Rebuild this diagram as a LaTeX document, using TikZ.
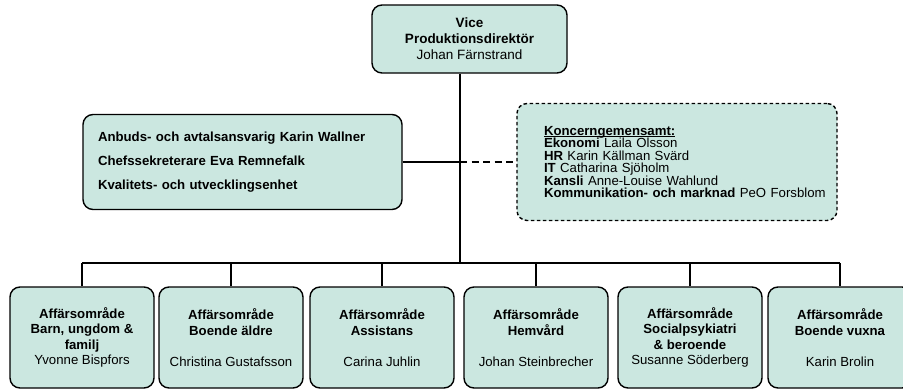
\documentclass[tikz,border=0pt]{standalone}
\usepackage{fontspec}
\setmainfont{Liberation Sans}
\definecolor{boxfill}{RGB}{203,231,224}
\newcommand\myul[1]{\sbox0{#1}\rlap{\rule[-1.6pt]{\wd0}{0.8pt}}#1}
\begin{document}
\begin{tikzpicture}[x=1pt,y=-1pt,
  orgbox/.style={draw=black, line width=1.4pt, fill=boxfill, rounded corners=10pt,
    inner sep=0pt, align=center, font=\fontsize{13.2}{15.5}\selectfont},
  botbox/.style={orgbox, minimum width=144pt, minimum height=101pt},
  link/.style={line width=2pt, black}]
\clip (0,0) rectangle (903,389);
\fill[white] (0,0) rectangle (903,389);
% top
\node[orgbox, minimum width=195pt, minimum height=68pt, font=\fontsize{13.5}{16}\selectfont] (top) at (469.5,39)
  {\textbf{Vice}\\\textbf{Produktionsdirektör}\\Johan Färnstrand};
% left staff box
\node[orgbox, minimum width=319pt, minimum height=95pt, text width=289pt, align=left,
  font=\fontsize{13.2}{24}\selectfont] (lb) at (242.5,162)
  {\textbf{Anbuds- och avtalsansvarig Karin Wallner}\\
   \textbf{Chefssekreterare Eva Remnefalk}\\
   \textbf{Kvalitets- och utvecklingsenhet}};
% dashed box
\node[orgbox, dash pattern=on 3.5pt off 2.5pt, minimum width=320pt, minimum height=117pt,
  text width=266pt, align=left, font=\fontsize{13.2}{12.4}\selectfont] (db) at (677,162)
  {\textbf{\myul{Koncerngemensamt:}}\\
   \textbf{Ekonomi} Laila Olsson\\
   \textbf{HR} Karin Källman Svärd\\
   \textbf{IT} Catharina Sjöholm\\
   \textbf{Kansli} Anne-Louise Wahlund\\
   \mbox{\textbf{Kommunikation- och marknad} PeO Forsblom}\\[8pt]};
% bottom boxes
\node[botbox] (b1) at (82,337.5)
  {\textbf{Affärsområde}\\\textbf{Barn, ungdom \&}\\\textbf{familj}\\Yvonne Bispfors};
\node[botbox] (b2) at (231,337.5)
  {\textbf{Affärsområde}\\\textbf{Boende äldre}\\[15.5pt]Christina Gustafsson};
\node[botbox] (b3) at (382,337.5)
  {\textbf{Affärsområde}\\\textbf{Assistans}\\[15.5pt]Carina Juhlin};
\node[botbox] (b4) at (536,337.5)
  {\textbf{Affärsområde}\\\textbf{Hemvård}\\[15.5pt]Johan Steinbrecher};
\node[botbox] (b5) at (690,337.5)
  {\textbf{Affärsområde}\\\textbf{Socialpsykiatri}\\\textbf{\& beroende}\\Susanne Söderberg};
\node[botbox] (b6) at (840,337.5)
  {\textbf{Affärsområde}\\\textbf{Boende vuxna}\\[15.5pt]Karin Brolin};
% connectors
\coordinate (bus) at (460,263);
\draw[link] (top.south -| bus) -- (bus);
\draw[link] (lb.east) -- (lb.east -| bus);
\draw[link, dash pattern=on 7pt off 4.5pt] (lb.east -| bus) -- (db.west);
\draw[link] (b1.north |- bus) -- (b6.north |- bus);
\foreach \b in {b1,b2,b3,b4,b5,b6} \draw[link] (\b.north) -- (\b.north |- bus);
\end{tikzpicture}
\end{document}
